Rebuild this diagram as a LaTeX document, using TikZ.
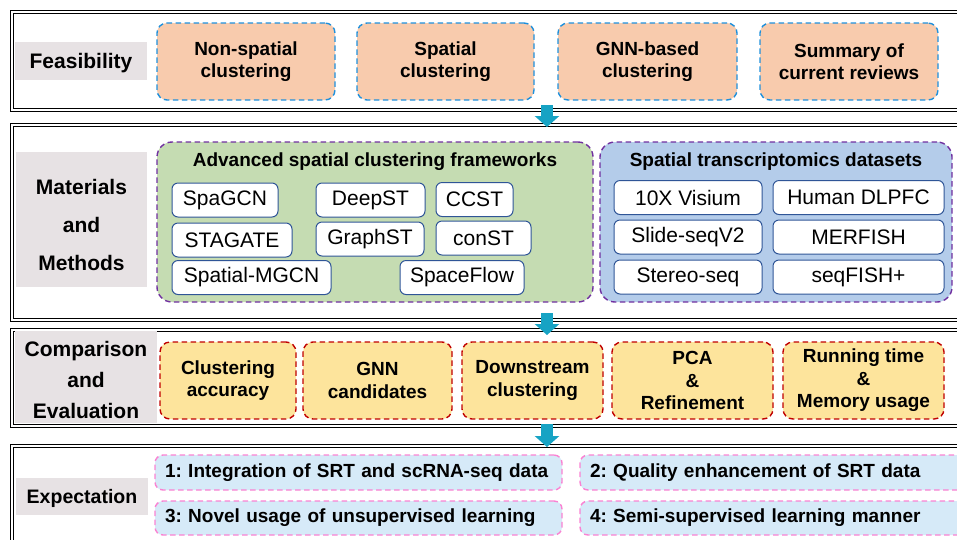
\documentclass[tikz,border=0pt]{standalone}
\usepackage{fontspec}
\setmainfont{Liberation Sans}
\usetikzlibrary{arrows.meta}
\frenchspacing
\definecolor{labgray}{RGB}{231,226,228}
\definecolor{feasorange}{RGB}{248,203,173}
\definecolor{feasblue}{RGB}{30,144,220}
\definecolor{grpgreen}{RGB}{197,220,178}
\definecolor{grpblue}{RGB}{180,204,234}
\definecolor{grppurple}{RGB}{112,48,160}
\definecolor{itemblue}{RGB}{47,85,151}
\definecolor{evalyellow}{RGB}{253,228,156}
\definecolor{evalred}{RGB}{192,0,0}
\definecolor{explight}{RGB}{214,234,248}
\definecolor{exppink}{RGB}{250,130,210}
\definecolor{flowteal}{RGB}{23,163,196}
\begin{document}
\begin{tikzpicture}[x=1pt,y=-1pt,
  panel/.style={draw=black, double=white, line width=1.2pt, double distance=1.5pt, inner sep=0pt},
  labbox/.style={fill=labgray, inner sep=0pt},
  lab/.style={inner sep=0pt, align=center, text=black, font=\fontsize{21}{31}\selectfont\bfseries},
  dashy/.style={dash pattern=on 5.5pt off 3.5pt, line width=1.4pt},
  feas/.style={dashy, draw=feasblue, fill=feasorange, rounded corners=10pt, inner sep=0pt, align=center, font=\fontsize{19}{22.5}\selectfont\bfseries, minimum height=77pt},
  grp/.style={dashy, draw=grppurple, rounded corners=15pt, inner sep=0pt, minimum height=160pt},
  grptitle/.style={inner sep=0pt, font=\fontsize{19}{22}\selectfont\bfseries},
  item/.style={draw=itemblue, fill=white, line width=1pt, rounded corners=6pt, inner sep=0pt, font=\fontsize{21}{24}\selectfont, minimum height=34pt},
  evalbox/.style={dashy, draw=evalred, fill=evalyellow, rounded corners=10pt, inner sep=0pt, align=center, font=\fontsize{19}{22.5}\selectfont\bfseries, minimum height=77pt},
  expbox/.style={dashy, draw=exppink, fill=explight, rounded corners=8pt, inner ysep=0pt, inner xsep=10pt, align=left, font=\fontsize{19}{22}\selectfont\bfseries, minimum height=35pt},
  flow/.style={draw=flowteal, line width=12pt, -{Triangle[width=24pt,length=11pt]}}
]
\useasboundingbox (0,0) rectangle (957,539);
\clip (0,0) rectangle (957,539);

% panels
\node[panel, minimum width=978pt, minimum height=98pt] (p1) at (501,61) {};
\node[panel, minimum width=978pt, minimum height=195pt] (p2) at (501,222.5) {};
\node[panel, minimum width=978pt, minimum height=96pt] (p3) at (501,378) {};
\node[panel, minimum width=978pt, minimum height=134pt] (p4) at (501,513) {};

% Feasibility
\node[labbox, minimum width=132pt, minimum height=38pt] (lfeasbox) at (81,61) {};
\node[lab] (lfeas) at (81,63) {Feasibility};
\node[feas, minimum width=178pt] (f1) at (246,61.5) {Non-spatial\\clustering};
\node[feas, minimum width=177pt] (f2) at (445.5,61.5) {Spatial\\clustering};
\node[feas, minimum width=179pt] (f3) at (647.5,61.5) {GNN-based\\clustering};
\node[feas, minimum width=178pt] (f4) at (849,61.5) {Summary of\\current reviews};

% Materials and Methods
\node[labbox, minimum width=131pt, minimum height=135pt] (lmatbox) at (81.5,219.5) {};
\node[lab, font=\fontsize{21}{38}\selectfont\bfseries] (lmat) at (81.5,225) {Materials\\and\\Methods};
\node[grp, fill=grpgreen, minimum width=436pt] (gfw) at (375,222) {};
\node[grp, fill=grpblue, minimum width=352pt] (gds) at (776,222) {};
\node[grptitle] (tfw) at (375,162) {Advanced spatial clustering frameworks};
\node[grptitle] (tds) at (776,162) {Spatial transcriptomics datasets};

\node[item, minimum width=106pt] (m1) at (225,200) {SpaGCN};
\node[item, minimum width=109pt] (m2) at (370.5,200) {DeepST};
\node[item, minimum width=77pt]  (m3) at (474.5,199.5) {CCST};
\node[item, minimum width=120pt] (m4) at (232,240) {STAGATE};
\node[item, minimum width=108pt] (m5) at (370,239) {GraphST};
\node[item, minimum width=95pt]  (m6) at (483.5,238) {conST};
\node[item, minimum width=159pt] (m7) at (251.5,277.5) {Spatial-MGCN};
\node[item, minimum width=124pt] (m8) at (462,277.5) {SpaceFlow};

\node[item, minimum width=148pt] (d1) at (688,197.5) {10X Visium};
\node[item, minimum width=171pt] (d2) at (858.5,197.5) {Human DLPFC};
\node[item, minimum width=148pt] (d3) at (688,237) {Slide-seqV2};
\node[item, minimum width=171pt] (d4) at (858.5,237) {MERFISH};
\node[item, minimum width=148pt] (d5) at (688,277) {Stereo-seq};
\node[item, minimum width=171pt] (d6) at (858.5,277) {seqFISH+};

% Comparison and Evaluation
\node[labbox, minimum width=142pt, minimum height=92pt] (levalbox) at (86,377) {};
\node[lab] (leval) at (86,380) {Comparison\\and\\Evaluation};
\node[evalbox, minimum width=136pt] (e1) at (228,380.5) {Clustering\\accuracy};
\node[evalbox, minimum width=149pt] (e2) at (377.5,380.5) {GNN\\candidates};
\node[evalbox, minimum width=141pt] (e3) at (532.5,380.5) {Downstream\\clustering};
\node[evalbox, minimum width=161pt] (e4) at (692.5,380.5) {PCA\\\&\\Refinement};
\node[evalbox, minimum width=161pt] (e5) at (863.5,380.5) {Running time\\\&\\Memory usage};

% Expectation
\node[labbox, minimum width=132pt, minimum height=37pt] (lexpbox) at (82,496.5) {};
\node[lab, font=\fontsize{19.5}{22}\selectfont\bfseries] (lexp) at (82,498) {Expectation};
\node[expbox, text width=387pt] (x1) at (358.5,472.5) {1: Integration of SRT and scRNA-seq data};
\node[expbox, text width=380pt] (x2) at (780,472.5) {2: Quality enhancement of SRT data};
\node[expbox, text width=387pt, minimum height=34pt] (x3) at (358.5,518) {3: Novel usage of unsupervised learning};
\node[expbox, text width=380pt, minimum height=34pt] (x4) at (780,518) {4: Semi-supervised learning manner};

% flow arrows
\coordinate (a1s) at (547,105);
\coordinate (a1e) at (547,127);
\coordinate (a2s) at (547,313);
\coordinate (a2e) at (547,335);
\coordinate (a3s) at (547,424);
\coordinate (a3e) at (547,447);
\draw[flow] (a1s) -- (a1e);
\draw[flow] (a2s) -- (a2e);
\draw[flow] (a3s) -- (a3e);
\end{tikzpicture}
\end{document}
